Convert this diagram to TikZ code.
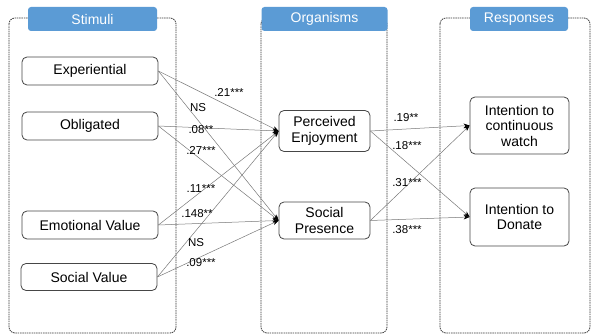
\documentclass[tikz,border=0pt]{standalone}
\usepackage{fontspec}
\setmainfont{Liberation Sans}
\usetikzlibrary{arrows.meta,positioning}
\definecolor{sorblue}{RGB}{91,155,213}
\definecolor{sorgray}{RGB}{70,70,70}
\definecolor{sorline}{RGB}{120,120,120}
\tikzstyle{container} = [draw=sorgray!80!black, rounded corners=6pt, line width=0.8pt, dash pattern=on 1.5pt off 0.8pt]
\tikzstyle{header} = [rectangle, rounded corners=3pt, fill=sorblue, text=white, minimum height=24pt, font=\fontsize{14}{16}\selectfont]
\tikzstyle{construct} = [rectangle, rounded corners=5pt, draw=sorgray, line width=0.8pt, fill=white, text centered, align=center, font=\fontsize{14}{15.5}\selectfont]
\tikzstyle{arrow} = [draw=sorline, line width=0.5pt, -{Stealth[black, length=6pt, width=4.5pt]}]
\tikzstyle{coef} = [inner sep=1pt, font=\fontsize{11.5}{13}\selectfont]

\begin{document}
\begin{tikzpicture}[x=1pt, y=-1pt]
\useasboundingbox (0,0) rectangle (592,334);

% Containers
\draw[container] (9,18) rectangle (176,333);
\draw[container] (261,18) rectangle (387,333);
\draw[container] (440,18) rectangle (590,333);

% Headers
\node (stimhd) [header, minimum width=129pt] at (92.5,19) {Stimuli};
\node (orghd) [header, minimum width=126pt] at (324.5,19) {Organisms};
\node (resphd) [header, minimum width=98pt] at (519,19) {Responses};

% Stimuli
\node (exp) [construct, minimum width=136pt, minimum height=28pt] at (90,71) {Experiential};
\node (obl) [construct, minimum width=136pt, minimum height=28pt] at (90,126) {Obligated};
\node (emo) [construct, minimum width=136pt, minimum height=28pt] at (90,225) {Emotional Value};
\node (soc) [construct, minimum width=136pt, minimum height=27pt] at (89,277) {Social Value};

% Organisms
\node (enjoy) [construct, minimum width=91pt, minimum height=41pt] at (324.5,131) {Perceived\\Enjoyment};
\node (presence) [construct, minimum width=91pt, minimum height=37pt] at (324.5,220.5) {Social\\Presence};

% Responses
\node (watch) [construct, minimum width=99pt, minimum height=57pt] at (519.5,125.5) {Intention to\\continuous\\watch};
\node (donate) [construct, minimum width=99pt, minimum height=58pt] at (519.5,217) {Intention to\\Donate};

% Arrows
\draw[arrow] (exp.east) -- (enjoy.west);
\draw[arrow] (exp.east) -- (presence.west);
\draw[arrow] (obl.east) -- (enjoy.west);
\draw[arrow] (obl.east) -- (presence.west);
\draw[arrow] (emo.east) -- (enjoy.west);
\draw[arrow] (emo.east) -- (presence.west);
\draw[arrow] (soc.east) -- (enjoy.west);
\draw[arrow] (soc.east) -- (presence.west);
\draw[arrow] (enjoy.east) -- (watch.west);
\draw[arrow] (enjoy.east) -- (donate.west);
\draw[arrow] (presence.east) -- (watch.west);
\draw[arrow] (presence.east) -- (donate.west);

% Coefficients
\node (c1) [coef] at (229,92) {.21***};
\node (c2) [coef] at (198,108) {NS};
\node (c3) [coef] at (201,130) {.08**};
\node (c4) [coef] at (201,150) {.27***};
\node (c5) [coef] at (201,189) {.11***};
\node (c6) [coef] at (197,214) {.148**};
\node (c7) [coef] at (196,243) {NS};
\node (c8) [coef] at (201,263) {.09***};
\node (c9) [coef] at (406,118) {.19**};
\node (c10) [coef] at (407,146) {.18***};
\node (c11) [coef] at (407,183) {.31***};
\node (c12) [coef] at (407,230) {.38***};
\end{tikzpicture}
\end{document}
